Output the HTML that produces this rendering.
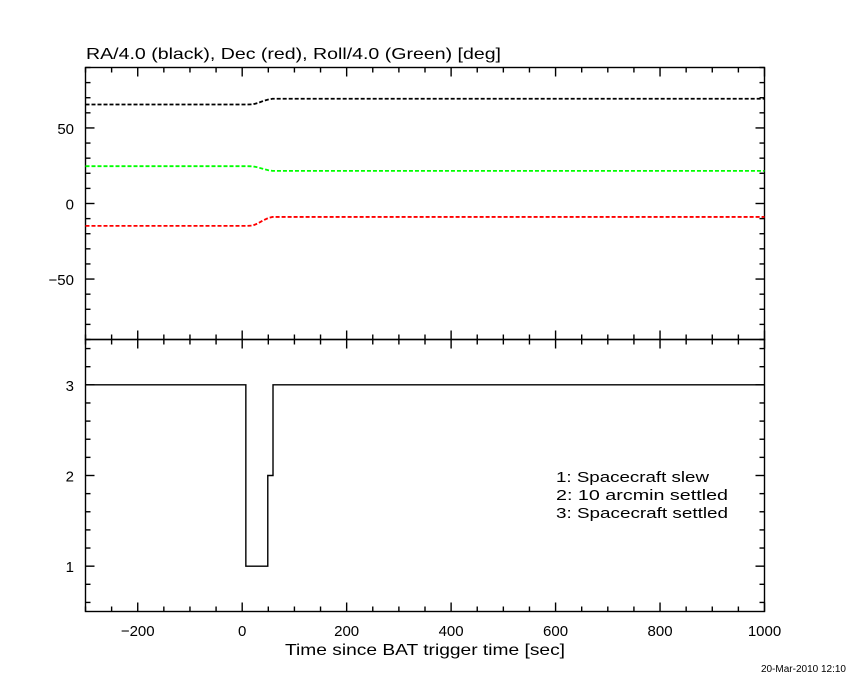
<!DOCTYPE html>
<html><head><meta charset="utf-8"><style>
body{margin:0;background:#fff}
text{font-family:"Liberation Sans",sans-serif;fill:#000}
</style></head><body>
<svg id="c" width="850" height="680" xmlns="http://www.w3.org/2000/svg"></svg>
<script>
const times=[-300,0,10,20,30,40,50,58,70,100,200,400,600,800,1000];
const raVals=[65.5,65.5,65.5,65.6,66.5,67.8,68.8,69.3,69.3,69.3,69.3,69.3,69.3,69.3,69.3];
const decVals=[-14.8,-14.8,-14.8,-14.6,-13.2,-11.2,-9.6,-8.9,-8.9,-8.9,-8.9,-8.9,-8.9,-8.9,-8.9];
const rollVals=[24.7,24.7,24.7,24.6,23.9,22.9,22.0,21.6,21.6,21.6,21.6,21.6,21.6,21.6,21.6];
const stepTimes=[-300,7,49,59,1000];
const stepVals=[3,1,2,3,3];
const xTicks=[-200,0,200,400,600,800,1000];
const topTicks=[-50,0,50];
const botTicks=[1,2,3];
const legendLines=["1: Spacecraft slew","2: 10 arcmin settled","3: Spacecraft settled"];
const legendWidths=[153,172,172];

const svg=document.getElementById('c');
const NS='http://www.w3.org/2000/svg';
const L=85.5,R=764.5,T1=67.5,B1=339.5,B2=611.5;
const X=t=>L+(t+300)/1300*(R-L);
const Y1=v=>T1+(90-v)/180*(B1-T1);
const Y2=v=>B1+(3.5-v)/3*(B2-B1);
function el(tag,attrs,name){const e=document.createElementNS(NS,tag);for(const k in attrs)e.setAttribute(k,attrs[k]);


svg.appendChild(e);return e;}
function line(x1,y1,x2,y2,name){return el('line',{x1,y1,x2,y2,stroke:'#000','stroke-width':1.4},name);}
function txt(x,y,s,anchor,size,name,w){const a={x,y,'text-anchor':anchor,'font-size':size};if(w){a.textLength=w;a.lengthAdjust='spacingAndGlyphs';}const t=el('text',a,name);t.textContent=s;return t;}

el('rect',{x:L,y:T1,width:R-L,height:B1-T1,fill:'none',stroke:'#000','stroke-width':1.4},'top-panel-frame');
el('rect',{x:L,y:B1,width:R-L,height:B2-B1,fill:'none',stroke:'#000','stroke-width':1.4},'bottom-panel-frame');

for(let t=-300;t<=1000;t+=50){const maj=t%200===0;const len=maj?9:5;const x=X(t);
 for(const [yb,yt] of [[B1,T1],[B2,B1]]){line(x,yb,x,yb-len,'x-tick');line(x,yt,x,yt+len,'x-tick');}}
xTicks.forEach(t=>txt(X(t),636,t<0?'\u2212'+(-t):String(t),'middle',15,'x-tick-label'));
for(let v=-90;v<=90;v+=10){const maj=v%50===0;const len=maj?9:5;const y=Y1(v);
 line(L,y,L+len,y,'y-tick-top');line(R,y,R-len,y,'y-tick-top');}
topTicks.forEach(v=>txt(74,Y1(v)+6,v<0?'\u2212'+(-v):String(v),'end',15,'y-tick-label-top'));
for(let i=3;i<=17;i++){const v=i/5;const maj=i%5===0;const len=maj?9:5;const y=Y2(v);
 line(L,y,L+len,y,'y-tick-bottom');line(R,y,R-len,y,'y-tick-bottom');}
botTicks.forEach(v=>txt(74,Y2(v)+6,String(v),'end',15,'y-tick-label-bottom'));

function series(vals,color,name){el('polyline',{points:times.map((t,i)=>X(t)+','+Y1(vals[i])).join(' '),fill:'none',stroke:color,'stroke-width':1.8,'stroke-dasharray':'4 2'},name);}
series(raVals,'#000','ra-series');
series(rollVals,'#00ff00','roll-series');
series(decVals,'#ff0000','dec-series');

let pts=[];for(let i=0;i<stepTimes.length;i++){if(i>0)pts.push(X(stepTimes[i])+','+Y2(stepVals[i-1]));pts.push(X(stepTimes[i])+','+Y2(stepVals[i]));}
el('polyline',{points:pts.join(' '),fill:'none',stroke:'#000','stroke-width':1.4},'settle-status-step');

txt(86,59,'RA/4.0 (black), Dec (red), Roll/4.0 (Green) [deg]','start',16,'top-panel-title',415);
legendLines.forEach((s,i)=>txt(556,482+i*18,s,'start',15,'status-legend-entry',legendWidths[i]));
txt(285,655,'Time since BAT trigger time [sec]','start',16,'x-axis-title',280);
txt(846,672,'20-Mar-2010 12:10','end',10,'timestamp');
</script>
</body></html>
